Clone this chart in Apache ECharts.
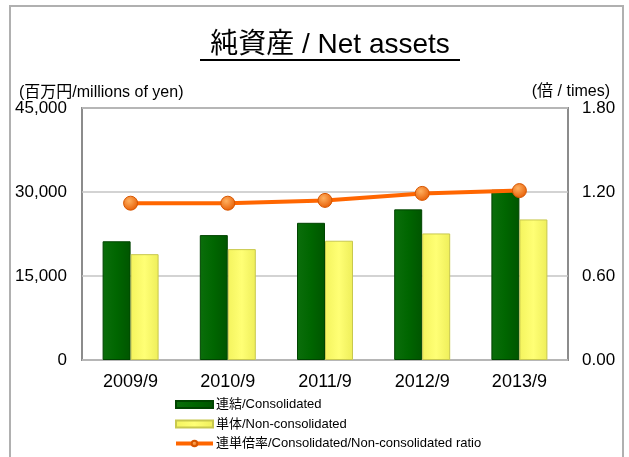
<!DOCTYPE html>
<html>
<head>
<meta charset="utf-8">
<script src="https://cdn.jsdelivr.net/npm/echarts@6/dist/echarts.min.js"></script>
<style>
  html, body { margin: 0; padding: 0; background: #fff; }
  #main { width: 629px; height: 457px; }
</style>
</head>
<body>
<div id="main"></div>
<script>
// データ
const categories = ['2009/9', '2010/9', '2011/9', '2012/9', '2013/9']
const consolidated = [21200, 22300, 24500, 26900, 30400]
const nonConsolidated = [18900, 19800, 21300, 22600, 25100]
const ratio = [1.12, 1.12, 1.14, 1.19, 1.21]
const seriesNames = ['連結/Consolidated', '単体/Non-consolidated', '連単倍率/Consolidated/Non-consolidated ratio']

const latin = "'Liberation Sans', 'Noto Sans CJK JP', sans-serif"

const chart = echarts.init(document.getElementById('main'))

const option = {
  animation: false,
  title: [
    {
      text: '(百万円/millions of yen)',
      left: 14, top: 80,
      textStyle: { fontSize: 16, fontWeight: 'normal', color: '#000', fontFamily: latin }
    },
    {
      text: '(倍 / times)',
      right: 14, top: 79,
      textStyle: { fontSize: 16, fontWeight: 'normal', color: '#000', fontFamily: latin }
    }
  ],
  graphic: [
    // 外枠
    { type: 'rect', shape: { x: 10, y: 6, width: 613, height: 470 }, style: { fill: 'none', stroke: '#b0b0b0', lineWidth: 2 }, silent: true },
    // タイトル
    { type: 'text', x: 330, y: 45, style: { text: '純資産 / Net assets', fontSize: 28, fontFamily: latin, fill: '#000', align: 'center', verticalAlign: 'middle' } },
    { type: 'line', shape: { x1: 200, y1: 60, x2: 460, y2: 60 }, style: { stroke: '#000', lineWidth: 2 } }
  ],
  legend: {
    orient: 'vertical',
    left: 174,
    top: 398,
    height: 70,
    padding: 0,
    itemWidth: 37,
    itemHeight: 7,
    itemGap: 6.5,
    textStyle: { fontSize: 13, lineHeight: 13, color: '#000', fontFamily: latin, padding: [0, 0, 0, -2] },
    data: [
      { name: seriesNames[0], icon: 'rect' },
      { name: seriesNames[1], icon: 'rect' },
      { name: seriesNames[2], lineStyle: { width: 4 } }
    ]
  },
  grid: {
    left: 82, right: 61, top: 108, bottom: 97,
    show: true,
    borderColor: '#8c8c8c',
    borderWidth: 2,
    containLabel: false
  },
  xAxis: {
    type: 'category',
    data: categories,
    axisLine: { show: false },
    axisTick: { show: false },
    axisLabel: { fontSize: 18, color: '#000', fontFamily: latin, margin: 13 }
  },
  yAxis: [
    {
      type: 'value',
      min: 0, max: 45000, interval: 15000,
      axisLine: { show: false },
      axisTick: { show: false },
      splitLine: { lineStyle: { color: '#c4c4c4', width: 1.5 } },
      axisLabel: {
        fontSize: 17, color: '#000', fontFamily: latin, margin: 15,
        formatter: v => v.toLocaleString('en-US')
      }
    },
    {
      type: 'value',
      min: 0, max: 1.8, interval: 0.6,
      axisLine: { show: false },
      axisTick: { show: false },
      splitLine: { show: false },
      axisLabel: {
        fontSize: 17, color: '#000', fontFamily: latin, margin: 14,
        formatter: v => v.toFixed(2)
      }
    }
  ],
  series: [
    {
      name: seriesNames[0],
      type: 'bar',
      data: consolidated,
      barWidth: 28,
      barGap: '0%',
      itemStyle: {
        color: new echarts.graphic.LinearGradient(0, 0, 1, 0, [
          { offset: 0, color: '#0b6e0b' },
          { offset: 0.5, color: '#006600' },
          { offset: 1, color: '#005500' }
        ]),
        borderColor: '#004400',
        borderWidth: 1
      }
    },
    {
      name: seriesNames[1],
      type: 'bar',
      data: nonConsolidated,
      barWidth: 28,
      itemStyle: {
        color: new echarts.graphic.LinearGradient(0, 0, 1, 0, [
          { offset: 0, color: '#f4f45e' },
          { offset: 0.5, color: '#ffff75' },
          { offset: 1, color: '#eeee5a' }
        ]),
        borderColor: '#c8c84e',
        borderWidth: 1
      }
    },
    {
      name: seriesNames[2],
      type: 'line',
      yAxisIndex: 1,
      data: ratio,
      symbol: 'circle',
      symbolSize: 14,
      lineStyle: { color: '#ff6600', width: 4 },
      itemStyle: {
        color: new echarts.graphic.RadialGradient(0.4, 0.35, 0.7, [
          { offset: 0, color: '#ffb060' },
          { offset: 1, color: '#e65a00' }
        ]),
        borderColor: '#d65500',
        borderWidth: 1
      },
      z: 5
    }
  ]
}

chart.setOption(option)
</script>
</body>
</html>
